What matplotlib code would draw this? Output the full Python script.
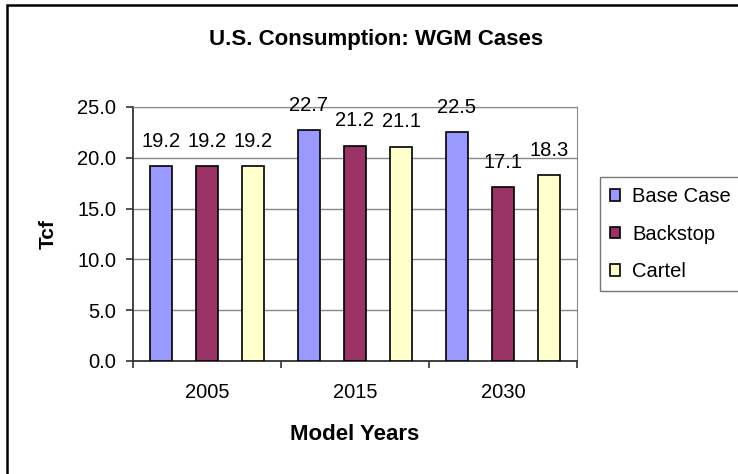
import matplotlib
matplotlib.use("Agg")
import matplotlib.pyplot as plt
import numpy as np
from matplotlib.patches import Rectangle

plt.rcParams['font.family'] = ['Liberation Sans', 'DejaVu Sans']

years = ['2005', '2015', '2030']
series = ['Base Case', 'Backstop', 'Cartel']
base_case = [19.2, 22.7, 22.5]
backstop = [19.2, 21.2, 17.1]
cartel = [19.2, 21.1, 18.3]
colors = ['#9999FF', '#993366', '#FFFFCC']

fig = plt.figure(figsize=(7.38, 4.74), dpi=100)
W, H = 738, 474
ax = fig.add_axes([133 / W, 1 - 361 / H, 444 / W, 254 / H])

# outer chart border (only left and top edges fall inside the picture)
fig.patches.append(Rectangle((7 / W, -0.05), 1.0, 1 - 5 / H + 0.05, transform=fig.transFigure,
                             fill=False, edgecolor='black', linewidth=1.8))

fs = 14.5
x = np.arange(len(years))
width = 0.15
step = 0.3125
for i, (vals, name) in enumerate(zip([base_case, backstop, cartel], series)):
    bars = ax.bar(x + (i - 1) * step, vals, width, color=colors[i], edgecolor='black',
                  linewidth=1.2, label=name, zorder=3)
    for b, v in zip(bars, vals):
        ax.annotate(f'{v:.1f}', (b.get_x() + b.get_width() / 2, v), xytext=(0, 11),
                    textcoords='offset points', ha='center', va='bottom', fontsize=fs, zorder=4)

ax.set_xlim(-0.5, 2.5)
ax.set_ylim(0, 25)
ax.set_yticks(np.arange(0, 25.1, 5))
ax.set_yticklabels([f'{v:.1f}' for v in np.arange(0, 25.1, 5)], fontsize=fs)
ax.set_xticks(x)
ax.set_xticklabels(years, fontsize=fs)
ax.set_xticks([-0.5, 0.5, 1.5, 2.5], minor=True)
ax.tick_params(axis='x', which='major', length=0, pad=16)
ax.tick_params(axis='x', which='minor', length=5, width=1.2, direction='out', color='#333333')
ax.tick_params(axis='y', length=5, width=1.2, direction='out', color='#333333', pad=7)
ax.yaxis.grid(True, color='#888888', linewidth=1.0, zorder=0)
ax.set_axisbelow(True)
for s in ['top', 'right']:
    ax.spines[s].set_color('#888888')
for s in ['left', 'bottom']:
    ax.spines[s].set_color('#333333')
    ax.spines[s].set_linewidth(1.3)

fig.text(376 / W, 1 - 45 / H, 'U.S. Consumption: WGM Cases', fontsize=16, fontweight='bold',
         ha='center', va='baseline')
ax.set_xlabel('Model Years', fontsize=16, fontweight='bold', labelpad=16)
ax.set_ylabel('Tcf', fontsize=15, fontweight='bold', labelpad=14)

leg = ax.legend(loc='upper left', bbox_to_anchor=(600 / W, 1 - 177 / H), bbox_transform=fig.transFigure,
                fontsize=fs, frameon=True, fancybox=False, edgecolor='#555555',
                handlelength=0.5, handleheight=0.5, handletextpad=0.6, labelspacing=0.92,
                borderpad=0.5, borderaxespad=0)
leg.get_frame().set_linewidth(1.0)

fig.savefig('out.png', dpi=100)
